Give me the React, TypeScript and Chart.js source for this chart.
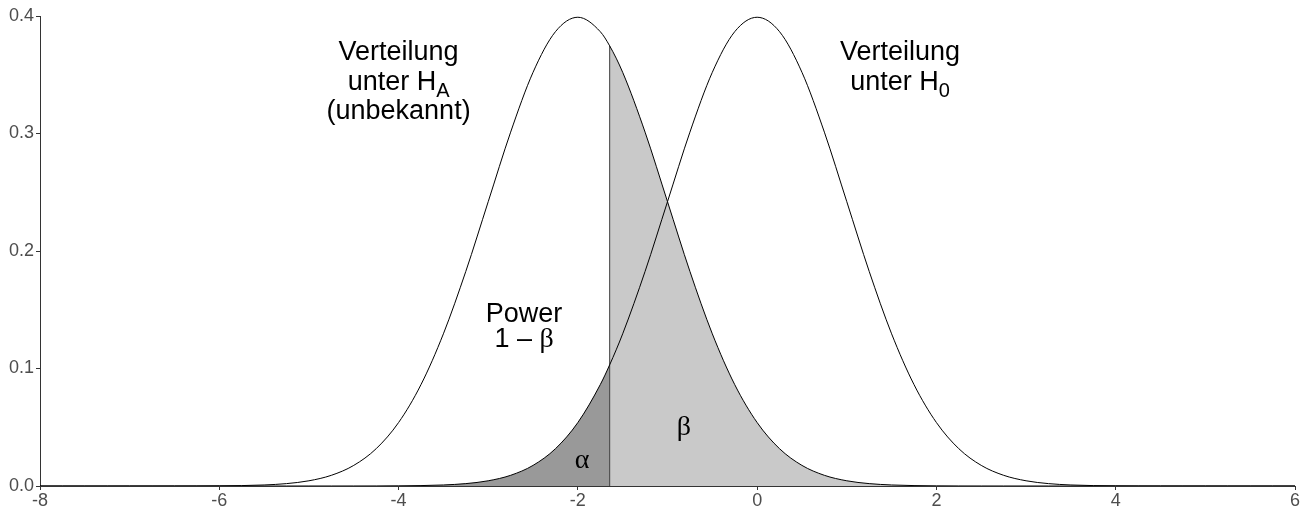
import React, { useEffect, useRef } from "react";
import { Chart, registerables } from "chart.js";

Chart.register(...registerables);

// x positions of the curve samples (with the critical value inserted)
const xs = [
  -8, -7.75, -7.5, -7.25, -7, -6.75, -6.5, -6.25, -6, -5.75, -5.5, -5.25,
  -5, -4.75, -4.5, -4.25, -4, -3.75, -3.5, -3.25, -3, -2.75, -2.5, -2.25, -2, -1.75,
  -1.645,
  -1.5, -1.25, -1, -0.75, -0.5, -0.25, 0, 0.25, 0.5, 0.75, 1, 1.25, 1.5, 1.75, 2,
  2.25, 2.5, 2.75, 3, 3.25, 3.5, 3.75, 4, 4.25, 4.5, 4.75, 5, 5.25, 5.5, 5.75, 6,
];

// density under H0
const h0Density = [
  0, 0, 0, 0, 0, 0, 0, 0, 0, 0, 0, 0,
  0.0000015, 0.000005, 0.000016, 0.000048, 0.000134, 0.000353, 0.000873, 0.002029,
  0.004432, 0.009094, 0.017528, 0.03174, 0.053991, 0.086277,
  0.10314,
  0.129518, 0.182649, 0.241971, 0.301137, 0.352065, 0.386668, 0.398942, 0.386668,
  0.352065, 0.301137, 0.241971, 0.182649, 0.129518, 0.086277, 0.053991, 0.03174,
  0.017528, 0.009094, 0.004432, 0.002029, 0.000873, 0.000353, 0.000134, 0.000048,
  0.000016, 0.000005, 0.0000015,
  0, 0, 0, 0,
];

// density under HA
const haDensity = [
  0, 0, 0, 0,
  0.0000015, 0.000005, 0.000016, 0.000048, 0.000134, 0.000353, 0.000873, 0.002029,
  0.004432, 0.009094, 0.017528, 0.03174, 0.053991, 0.086277, 0.129518, 0.182649,
  0.241971, 0.301137, 0.352065, 0.386668, 0.398942, 0.386668,
  0.37458,
  0.352065, 0.301137, 0.241971, 0.182649, 0.129518, 0.086277, 0.053991, 0.03174,
  0.017528, 0.009094, 0.004432, 0.002029, 0.000873, 0.000353, 0.000134, 0.000048,
  0.000016, 0.000005, 0.0000015,
  0, 0, 0, 0, 0, 0, 0, 0, 0, 0, 0, 0,
];

const criticalValue = -1.645;
const criticalHeight = 0.37458;

const xTicks = [-8, -6, -4, -2, 0, 2, 4, 6];
const yTicks = [0, 0.1, 0.2, 0.3, 0.4];
const yTickLabels = ["0.0", "0.1", "0.2", "0.3", "0.4"];

type Part = { text: string; sub?: boolean; serif?: boolean };
type Label = { x: number; y: number; parts: Part[] };

const labels: Label[] = [
  { x: -4.0, y: 0.3626, parts: [{ text: "Verteilung" }] },
  { x: -4.0, y: 0.3366, parts: [{ text: "unter H" }, { text: "A", sub: true }] },
  { x: -4.0, y: 0.3125, parts: [{ text: "(unbekannt)" }] },
  { x: 1.594, y: 0.3626, parts: [{ text: "Verteilung" }] },
  { x: 1.594, y: 0.3366, parts: [{ text: "unter H" }, { text: "0", sub: true }] },
  { x: -2.6, y: 0.1396, parts: [{ text: "Power" }] },
  { x: -2.6, y: 0.1183, parts: [{ text: "1 \u2013 " }, { text: "\u03b2", serif: true }] },
  { x: -1.954, y: 0.0153, parts: [{ text: "\u03b1", serif: true }] },
  { x: -0.816, y: 0.0434, parts: [{ text: "\u03b2", serif: true }] },
];

const FONT_SIZE = 27;
const SERIF_SIZE = 28;
const SANS = "'Liberation Sans', Arial, sans-serif";
const SERIF = "'Liberation Serif', 'Times New Roman', serif";

const fontFor = (p: Part) => {
  if (p.serif) return `${SERIF_SIZE}px ${SERIF}`;
  return `${p.sub ? Math.round(FONT_SIZE * 0.75) : FONT_SIZE}px ${SANS}`;
};

const labelPlugin = {
  id: "labels",
  afterDatasetsDraw(chart: any) {
    const ctx = chart.ctx as CanvasRenderingContext2D;
    const sx = chart.scales.x;
    const sy = chart.scales.y;
    ctx.save();
    ctx.fillStyle = "#000";
    ctx.textBaseline = "alphabetic";
    ctx.textAlign = "left";
    for (const l of labels) {
      const widths = l.parts.map((p) => {
        ctx.font = fontFor(p);
        return ctx.measureText(p.text).width;
      });
      const total = widths.reduce((a, b) => a + b, 0);
      let px = sx.getPixelForValue(l.x) - total / 2;
      const py = sy.getPixelForValue(l.y);
      l.parts.forEach((p, i) => {
        ctx.font = fontFor(p);
        ctx.fillText(p.text, px, py + (p.sub ? FONT_SIZE * 0.25 : 0));
        px += widths[i];
      });
    }
    ctx.restore();
  },
};

export default function App() {
  const ref = useRef<HTMLCanvasElement | null>(null);

  useEffect(() => {
    if (!ref.current) return;
    const h0Points = xs.map((x, i) => ({ x, y: h0Density[i] }));
    const haPoints = xs.map((x, i) => ({ x, y: haDensity[i] }));
    const alphaPoints = h0Points.filter((p) => p.x <= criticalValue);
    const betaPoints = haPoints.filter((p) => p.x >= criticalValue);

    const line = {
      borderColor: "#000",
      borderWidth: 1,
      pointRadius: 0,
      fill: false,
      cubicInterpolationMode: "monotone" as const,
    };

    const chart = new Chart(ref.current, {
      type: "line",
      data: {
        datasets: [
          { ...line, label: "H0", data: h0Points, order: 0 },
          { ...line, label: "HA", data: haPoints, order: 0 },
          {
            label: "crit",
            data: [
              { x: criticalValue, y: 0 },
              { x: criticalValue, y: criticalHeight },
            ],
            borderColor: "#3a3a3a",
            borderWidth: 1,
            pointRadius: 0,
            fill: false,
            order: 1,
          },
          {
            label: "alpha",
            data: alphaPoints,
            borderWidth: 0,
            borderColor: "rgba(0,0,0,0)",
            backgroundColor: "#999999",
            pointRadius: 0,
            fill: "origin",
            cubicInterpolationMode: "monotone",
            order: 2,
          },
          {
            label: "beta",
            data: betaPoints,
            borderWidth: 0,
            borderColor: "rgba(0,0,0,0)",
            backgroundColor: "#c9c9c9",
            pointRadius: 0,
            fill: "origin",
            cubicInterpolationMode: "monotone",
            order: 2,
          },
        ],
      },
      options: {
        animation: false,
        responsive: false,
        events: [],
        layout: { padding: { top: 16, right: 12, left: 0, bottom: 0 } },
        plugins: {
          legend: { display: false },
          tooltip: { enabled: false },
          title: { display: false },
        },
        scales: {
          x: {
            type: "linear",
            min: -8,
            max: 6,
            afterBuildTicks: (s: any) => {
              s.ticks = xTicks.map((v) => ({ value: v }));
            },
            ticks: {
              color: "#4d4d4d",
              font: { family: SANS, size: 18 },
              padding: 0,
              maxRotation: 0,
              autoSkip: false,
              callback: (v: any) => String(v),
            },
            grid: {
              drawOnChartArea: false,
              drawTicks: true,
              tickLength: 4,
              tickColor: "#333333",
              tickWidth: 1,
            },
            border: { display: true, color: "#333333", width: 1 },
            afterFit: (s: any) => {
              s.height = 20;
            },
          },
          y: {
            type: "linear",
            min: 0,
            max: 0.4,
            afterBuildTicks: (s: any) => {
              s.ticks = yTicks.map((v) => ({ value: v }));
            },
            ticks: {
              color: "#4d4d4d",
              font: { family: SANS, size: 18 },
              padding: 2,
              autoSkip: false,
              callback: (v: any) => {
                const i = yTicks.findIndex((t) => Math.abs(t - Number(v)) < 1e-9);
                return i >= 0 ? yTickLabels[i] : "";
              },
            },
            grid: {
              drawOnChartArea: false,
              drawTicks: true,
              tickLength: 4,
              tickColor: "#333333",
              tickWidth: 1,
            },
            border: { display: true, color: "#333333", width: 1 },
            afterFit: (s: any) => {
              s.width = 40;
            },
          },
        },
      },
      plugins: [labelPlugin],
    } as any);
    return () => chart.destroy();
  }, []);

  return (
    <div style={{ position: "absolute", left: 0, top: 0, width: 1307, height: 506, background: "#fff" }}>
      <canvas ref={ref} width={1307} height={506} style={{ display: "block" }} />
    </div>
  );
}
